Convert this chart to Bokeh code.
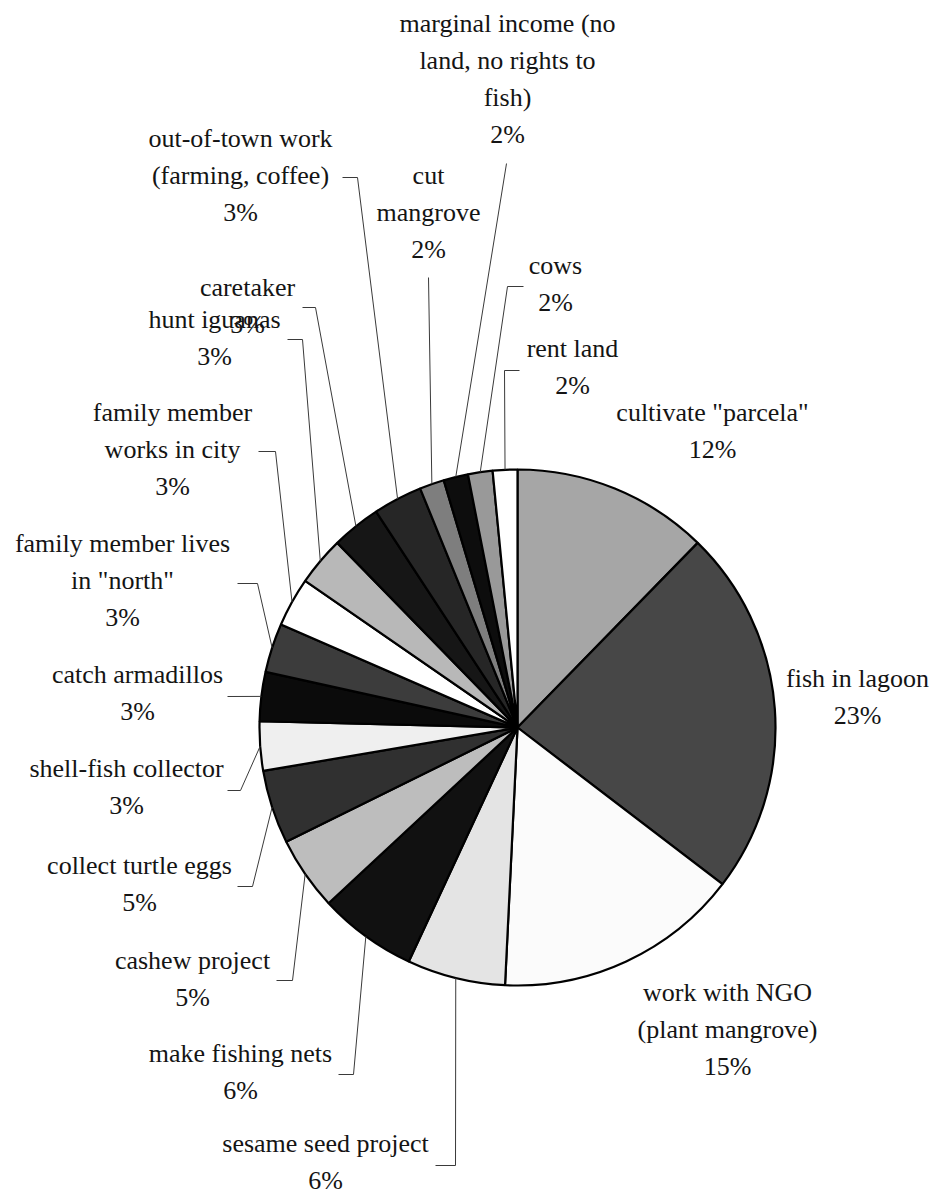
import math
from bokeh.plotting import figure
from bokeh.models import Range1d, ColumnDataSource
from bokeh.core.properties import value
from bokeh.embed import file_html
from bokeh.resources import INLINE

# ---------------- data ----------------
categories = [
    'cultivate "parcela"',
    'fish in lagoon',
    'work with NGO\n(plant mangrove)',
    'sesame seed project',
    'make fishing nets',
    'cashew project',
    'collect turtle eggs',
    'shell-fish collector',
    'catch armadillos',
    'family member lives\nin "north"',
    'family member\nworks in city',
    'hunt iguanas',
    'caretaker',
    'out-of-town work\n(farming, coffee)',
    'cut\nmangrove',
    'marginal income (no\nland, no rights to\nfish)',
    'cows',
    'rent land',
]
shares = [8, 15, 10, 4, 4, 3, 3, 2, 2, 2, 2, 2, 2, 2, 1, 1, 1, 1]
pct_labels = ["12%", "23%", "15%", "6%", "6%", "5%", "5%", "3%", "3%",
              "3%", "3%", "3%", "3%", "3%", "2%", "2%", "2%", "2%"]

# ---------------- styles / layout ----------------
fills = ["#a6a6a6", "#474747", "#fbfbfb", "#e4e4e4", "#111111", "#bdbdbd",
         "#303030", "#efefef", "#0b0b0b", "#3c3c3c", "#ffffff", "#b8b8b8",
         "#161616", "#262626", "#7e7e7e", "#0d0d0d", "#999999", "#ffffff"]

W, H = 931, 1194
CX, CY_PX, R = 517, 727, 258
FS = 26
LINE_H = 37
FONT = "serif"

# first-line centre of each label (pixel coords, y down)
label_pos = [(712, 412), (857, 678), (727, 992), (325, 1143), (240, 1053),
             (192, 960), (139, 865), (126, 768), (137, 674), (122, 543),
             (172, 412), (214, 319), (247, 287), (240, 138), (428, 175),
             (507, 23), (555, 265), (572, 348)]
# leader anchors near label (pixel coords), line then runs to pie edge
leader_pts = [None, None, None,
              [(435, 1165), (455, 1165)],
              [(338, 1074), (353, 1074)],
              [(276, 980), (292, 980)],
              [(237, 886), (252, 886)],
              [(227, 790), (240, 790)],
              [(227, 696)],
              [(237, 583), (257, 583)],
              [(258, 451), (275, 451)],
              [(287, 339), (302, 339)],
              [(302, 307), (315, 307)],
              [(342, 177), (357, 177)],
              [(428, 277)],
              [(506, 163)],
              [(523, 286), (507, 286)],
              [(519, 370), (504, 370)]]


def Y(ypx):
    return H - ypx


p = figure(width=W, height=H, x_range=Range1d(0, W), y_range=Range1d(0, H),
           output_backend="svg", toolbar_location=None, min_border=0)
p.axis.visible = False
p.grid.visible = False
p.outline_line_color = None
p.background_fill_color = "white"
p.border_fill_color = "white"

total = float(sum(shares))
starts, ends, mids = [], [], []
cum = 0.0
for s in shares:
    a0 = cum / total
    cum += s
    a1 = cum / total
    starts.append(math.pi / 2 - 2 * math.pi * a1)
    ends.append(math.pi / 2 - 2 * math.pi * a0)
    mids.append(2 * math.pi * (a0 + a1) / 2)  # clockwise from top

src = ColumnDataSource(dict(start=starts, end=ends, fill=fills, cat=categories))
p.wedge(x=CX, y=Y(CY_PX), radius=R, start_angle="start", end_angle="end",
        direction="anticlock", fill_color="fill", line_color="black",
        line_width=2.2, source=src)

# leader lines
for i, pts in enumerate(leader_pts):
    if pts is None:
        continue
    ex = CX + R * math.sin(mids[i])
    ey = Y(CY_PX) + R * math.cos(mids[i])
    xs = [q[0] for q in pts] + [ex]
    ys = [Y(q[1]) for q in pts] + [ey]
    p.line(xs, ys, line_color="#3a3a3a", line_width=1)

# labels
tx, ty, tt = [], [], []
for i, cat in enumerate(categories):
    lines = cat.split("\n") + [pct_labels[i]]
    x0, y0 = label_pos[i]
    for k, ln in enumerate(lines):
        tx.append(x0)
        ty.append(Y(y0 + k * LINE_H))
        tt.append(ln)
p.text(x=tx, y=ty, text=tt, text_align="center", text_baseline="middle",
       text_font=value(FONT), text_font_size=f"{FS}px",
       text_color="#141414")

open("out.html", "w").write(file_html(p, INLINE))
